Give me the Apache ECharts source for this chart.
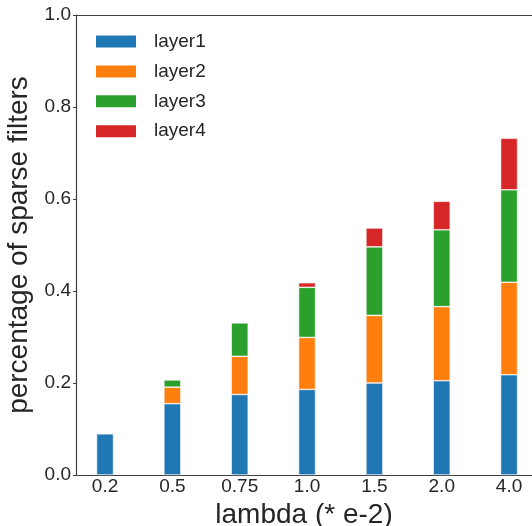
<!DOCTYPE html>
<html>
<head>
<meta charset="utf-8">
<script src="https://cdn.jsdelivr.net/npm/echarts@6/dist/echarts.min.js"></script>
<style>
html,body{margin:0;padding:0;background:#fff;}
#chart{width:532px;height:526px;}
</style>
</head>
<body>
<div id="chart"></div>
<script>
const categories = ['0.2', '0.5', '0.75', '1.0', '1.5', '2.0', '4.0'];
const layer1 = [0.090, 0.155, 0.175, 0.186, 0.200, 0.205, 0.218];
const layer2 = [0.000, 0.036, 0.083, 0.113, 0.147, 0.161, 0.201];
const layer3 = [0.000, 0.016, 0.073, 0.109, 0.149, 0.167, 0.201];
const layer4 = [0.000, 0.000, 0.000, 0.010, 0.041, 0.062, 0.112];
const seriesNames = ['layer1', 'layer2', 'layer3', 'layer4'];
const seriesValues = [layer1, layer2, layer3, layer4];
const colors = ['#1f77b4', '#ff7f0e', '#2ca02c', '#d62728'];

const FONT = 'Liberation Sans, Arial, sans-serif';
const TXT = '#262626';
const AX = '#404040';

const chart = echarts.init(document.getElementById('chart'), null, {renderer: 'canvas'});

const option = {
  animation: false,
  backgroundColor: '#fff',
  color: colors,
  grid: [
    // grid for the bars (category bands)
    {left: 71.35, right: -10.75, top: 15, bottom: 51, containLabel: false, outerBoundsMode: 'none'},
    // frame grid (spines, y labels, titles)
    {left: 76, right: 0, top: 15, bottom: 51, containLabel: false, outerBoundsMode: 'none'}
  ],
  legend: {
    orient: 'vertical',
    left: 94,
    top: 32,
    padding: 0,
    itemWidth: 42,
    itemHeight: 14,
    itemGap: 10.9,
    icon: 'rect',
    data: seriesNames,
    textStyle: {fontFamily: FONT, fontSize: 19, color: TXT, padding: [0, 0, 0, 12]}
  },
  xAxis: [{
    gridIndex: 0,
    type: 'category',
    data: categories,
    boundaryGap: true,
    axisLine: {show: false},
    axisTick: {show: false},
    splitLine: {show: false},
    axisLabel: {fontFamily: FONT, fontSize: 19, color: TXT, margin: 2}
  }, {
    gridIndex: 1,
    type: 'value',
    min: 0,
    max: 1,
    name: 'lambda (* e-2)',
    nameLocation: 'middle',
    nameGap: 26,
    nameTextStyle: {fontFamily: FONT, fontSize: 28, color: TXT, verticalAlign: 'top'},
    axisLine: {show: true, onZero: false, lineStyle: {color: AX, width: 1.2}},
    axisTick: {show: false},
    axisLabel: {show: false},
    splitLine: {show: false}
  }, {
    gridIndex: 1,
    type: 'value',
    position: 'top',
    min: 0,
    max: 1,
    axisLine: {show: true, onZero: false, lineStyle: {color: AX, width: 1.2}},
    axisTick: {show: false},
    axisLabel: {show: false},
    splitLine: {show: false}
  }],
  yAxis: [{
    gridIndex: 0,
    type: 'value',
    min: 0,
    max: 1,
    show: false
  }, {
    gridIndex: 1,
    type: 'value',
    min: 0,
    max: 1,
    interval: 0.2,
    name: 'percentage of sparse filters',
    nameLocation: 'middle',
    nameGap: 42,
    nameTextStyle: {fontFamily: FONT, fontSize: 28, color: TXT},
    axisLine: {show: true, onZero: false, lineStyle: {color: AX, width: 1.2}},
    axisTick: {show: true, length: 3, lineStyle: {color: AX}},
    splitLine: {show: false},
    axisLabel: {
      fontFamily: FONT, fontSize: 19, color: TXT, margin: 5,
      formatter: v => v.toFixed(1)
    }
  }],
  series: seriesNames.map((name, k) => ({
    name: name,
    type: 'bar',
    stack: 'total',
    barWidth: 17,
    xAxisIndex: 0,
    yAxisIndex: 0,
    itemStyle: {color: colors[k], borderColor: '#ffffff', borderWidth: 0.6},
    data: seriesValues[k]
  }))
};
chart.setOption(option);
</script>
</body>
</html>
